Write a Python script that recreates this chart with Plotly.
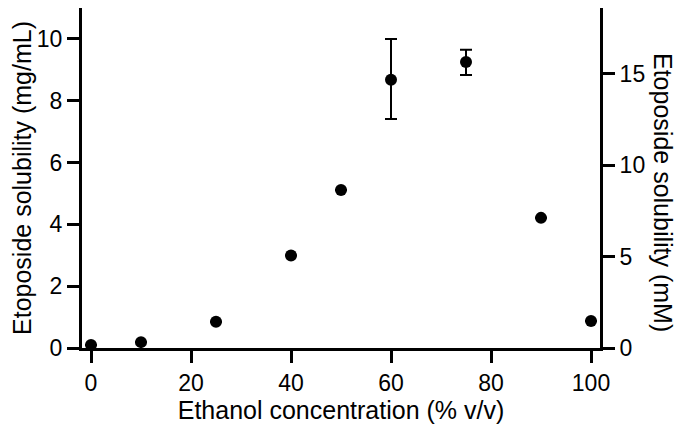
import plotly.graph_objects as go

# Ethanol concentration (% v/v) and etoposide solubility (mg/mL)
ethanol = [0, 10, 25, 40, 50, 60, 75, 90, 100]
solubility = [0.10, 0.19, 0.85, 2.99, 5.11, 8.68, 9.25, 4.21, 0.87]
err_plus = [0, 0, 0, 0, 0, 1.32, 0.40, 0, 0]
err_minus = [0, 0, 0, 0, 0, 1.27, 0.42, 0, 0]

left_ticks = [0, 2, 4, 6, 8, 10]
right_ticks = [0, 5, 10, 15]
x_ticks = [0, 20, 40, 60, 80, 100]

FONT = "Liberation Sans, Arial, sans-serif"
PAD = 8  # default body margin of the html page

fig = go.Figure()

fig.add_trace(go.Scatter(
    x=ethanol,
    y=solubility,
    mode="markers",
    marker=dict(size=12, color="black"),
    error_y=dict(type="data", array=err_plus, arrayminus=err_minus,
                 symmetric=False, color="black", thickness=2, width=6),
    cliponaxis=False,
    showlegend=False,
))

# empty trace so the right (mM) axis gets drawn
fig.add_trace(go.Scatter(x=[], y=[], yaxis="y2", showlegend=False,
                         hoverinfo="skip"))

axis_common = dict(
    showline=True, linecolor="black", linewidth=3,
    ticks="outside", ticklen=12, tickwidth=3, tickcolor="black",
    showgrid=False, zeroline=False,
    tickfont=dict(family=FONT, size=23, color="black"),
)

fig.update_layout(
    width=686 - PAD, height=433 - PAD,
    margin=dict(l=82 - PAD, r=86, t=0, b=85),
    plot_bgcolor="white", paper_bgcolor="white",
    font=dict(family=FONT, size=23, color="black"),
    xaxis=dict(
        range=[-1.8, 101.8], tickvals=x_ticks,
        title=dict(text="Ethanol concentration (% v/v)", standoff=2,
                   font=dict(family=FONT, size=25)),
        **axis_common,
    ),
    yaxis=dict(
        range=[0, 11.0], tickvals=left_ticks,
        title=dict(text="Etoposide solubility (mg/mL)", standoff=3,
                   font=dict(family=FONT, size=25)),
        **axis_common,
    ),
    yaxis2=dict(
        range=[0, 18.6], tickvals=right_ticks,
        overlaying="y", side="right", anchor="x",
        **axis_common,
    ),
)

# right title reads top-to-bottom in the original
fig.add_annotation(
    text="Etoposide solubility (mM)", textangle=90,
    xref="paper", yref="paper", x=1, y=0.5,
    xanchor="center", yanchor="middle", xshift=63, yshift=-14,
    showarrow=False, font=dict(family=FONT, size=25, color="black"),
)

fig.write_html("out.html")
